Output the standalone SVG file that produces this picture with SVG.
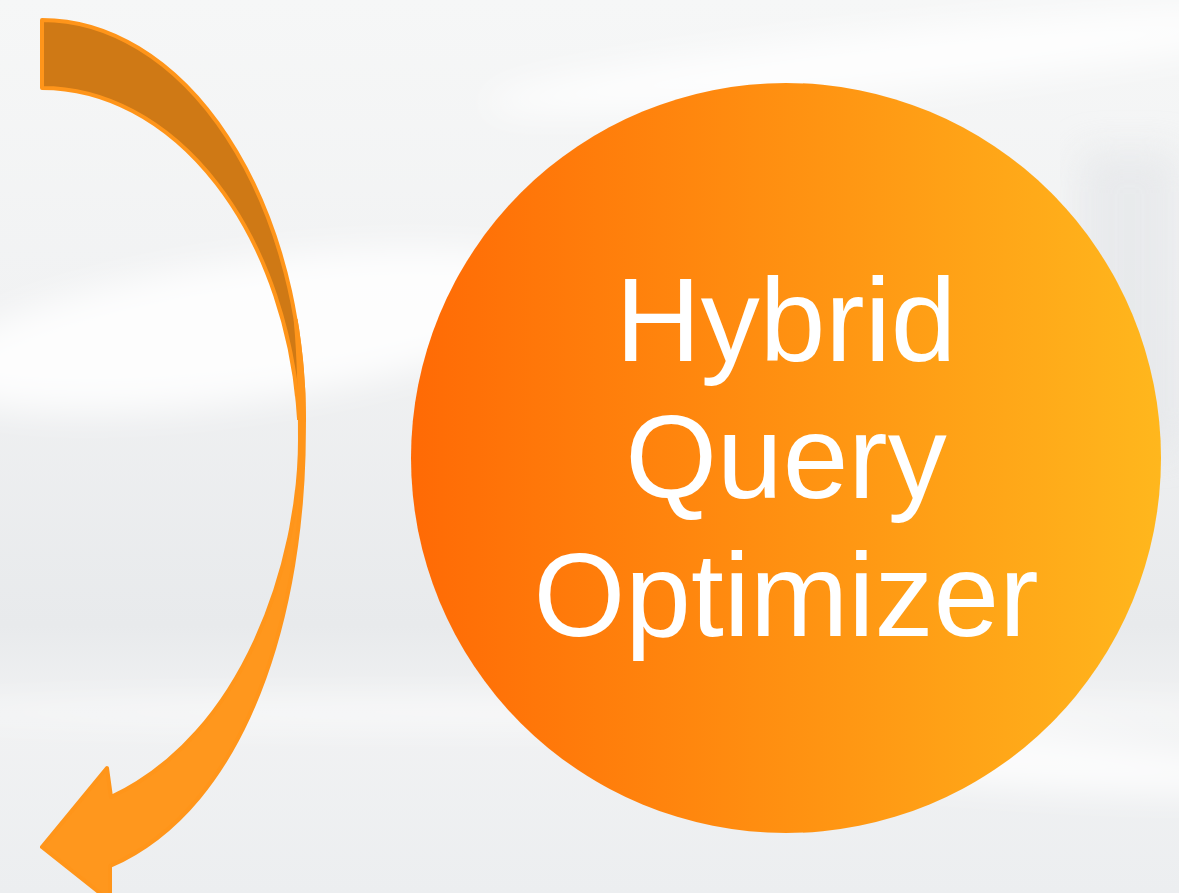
<svg xmlns="http://www.w3.org/2000/svg" width="1179" height="893" viewBox="0 0 1179 893">
  <defs>
    <linearGradient id="bg" x1="0" y1="0" x2="0" y2="1">
      <stop offset="0" stop-color="#f6f7f7"/>
      <stop offset="0.35" stop-color="#f1f2f3"/>
      <stop offset="0.7" stop-color="#e8eaec"/>
      <stop offset="0.8" stop-color="#f1f2f3"/>
      <stop offset="1" stop-color="#eceef0"/>
    </linearGradient>
    <linearGradient id="circ" x1="0" y1="0" x2="1" y2="0">
      <stop offset="0" stop-color="#ff6a05"/>
      <stop offset="1" stop-color="#ffb71d"/>
    </linearGradient>
    <filter id="blur" x="-20%" y="-50%" width="140%" height="200%">
      <feGaussianBlur stdDeviation="18"/>
    </filter>
    <style>
      .edge { fill: none; stroke: #ff951a; stroke-width: 4; stroke-linejoin: round; stroke-linecap: butt; }
      .arrow { stroke: #ff951a; stroke-width: 4; stroke-linejoin: round; }
      .back { fill: #cf7915; stroke: none; }
      .front { fill: #ff971d; }
      .label { font-family: "Liberation Sans", Arial, sans-serif; font-size: 118px; fill: #ffffff; text-anchor: middle; }
    </style>
  </defs>

  <g id="background">
    <rect x="0" y="0" width="1179" height="893" fill="url(#bg)"/>
    <g filter="url(#blur)" fill="#ffffff" opacity="0.85">
      <ellipse cx="900" cy="60" rx="420" ry="30" transform="rotate(-6 900 60)"/>
      <ellipse cx="250" cy="330" rx="320" ry="70" transform="rotate(-8 250 330)"/>
      <ellipse cx="600" cy="712" rx="700" ry="10"/>
      <ellipse cx="1000" cy="760" rx="300" ry="25" transform="rotate(4 1000 760)"/>
    </g>
    <rect x="1080" y="150" width="99" height="300" fill="#e2e4e7" opacity="0.6" filter="url(#blur)"/>
  </g>

  <g id="connectors">
    <path class="back" d="M42,20 A262,400 0 0 1 304,420 L299.1,420 A258,362 0 0 0 42,88 Z"/>
    <path class="edge" d="M299.1,420 A258,362 0 0 0 42,88 L42,20 A262,400 0 0 1 304,420"/>
    <path class="arrow front" d="M295.7,320 A262,400 0 0 1 303.9,430 C304,610 248,806 110,866 L110,901 L42,847 L107,768 L111,797 C245,735 300,560 300,440 C300,390 298.5,350 295.7,320 Z"/>
  </g>

  <g id="node-optimizer">
    <circle cx="786" cy="458" r="375" fill="url(#circ)"/>
    <text class="label" x="786" y="361">Hybrid</text>
    <text class="label" x="786" y="498">Query</text>
    <text class="label" x="786" y="636">Optimizer</text>
  </g>
</svg>
